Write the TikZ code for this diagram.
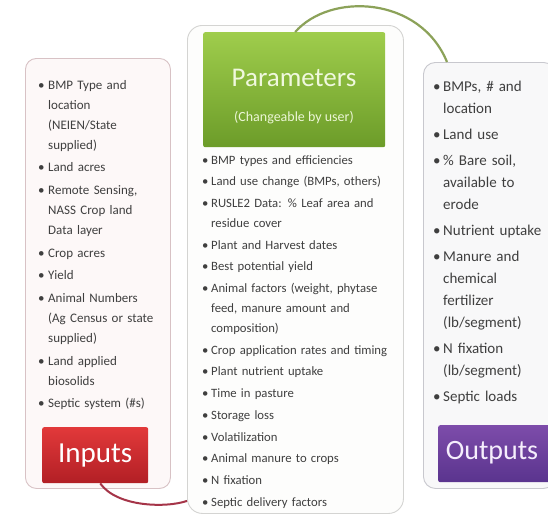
\documentclass[tikz,border=0pt]{standalone}
\usepackage{fontspec}
\setmainfont{Carlito}
\usetikzlibrary{calc}
\definecolor{txt}{HTML}{3F3F3F}
\definecolor{leftfill}{HTML}{FDF8F8}
\definecolor{leftline}{HTML}{D8C2C5}
\definecolor{midfill}{HTML}{FDFDFC}
\definecolor{midline}{HTML}{D4D4D2}
\definecolor{rightfill}{HTML}{F8F8F9}
\definecolor{rightline}{HTML}{C8C8CE}
\definecolor{redtop}{HTML}{E2393A}
\definecolor{redbot}{HTML}{B21F25}
\definecolor{grntop}{HTML}{9FCD4C}
\definecolor{grnbot}{HTML}{6C9C29}
\definecolor{purtop}{HTML}{7D4CAA}
\definecolor{purbot}{HTML}{5A348E}
\definecolor{redline}{HTML}{A53448}
\definecolor{grnline}{HTML}{8CA259}
\newif\iffirstitem
\newcommand\nl{\hfil\break}
\newcommand\bitem[2][10pt]{\iffirstitem\global\firstitemfalse\else\par\fi
  \hangindent=#1\hangafter=1\noindent\hbox to #1{\textbullet\hfil}#2}
\begin{document}
\begin{tikzpicture}[x=1pt,y=-1pt,
  panel/.style={draw, line width=0.9pt, anchor=north west, inner sep=0pt},
  labelbox/.style={anchor=north west, inner sep=0pt, rounded corners=2pt, text=white},
  listtext/.style={anchor=base west, inner sep=0pt, text=txt}]
\useasboundingbox (0,0) rectangle (548,522);
\fill[white] (0,0) rectangle (548,522);

% panels
\node[panel, draw=leftline, fill=leftfill, rounded corners=11pt,
      minimum width=145pt, minimum height=430pt] (inbox) at (25,58) {};
\node[panel, draw=midline, fill=midfill, rounded corners=15pt,
      minimum width=216pt, minimum height=488pt] (midbox) at (187,25) {};
\node[panel, draw=rightline, fill=rightfill, rounded corners=12pt,
      minimum width=132pt, minimum height=426pt] (outbox) at (423,62) {};

% title boxes
\node[labelbox, top color=redtop, bottom color=redbot,
      minimum width=106pt, minimum height=56pt] (inputs) at (42,427) {};
\node[text=white, inner sep=0pt, font=\fontsize{29}{29}\selectfont] (inputstxt) at (inputs.center) {Inputs};

\node[labelbox, top color=grntop, bottom color=grnbot,
      minimum width=182pt, minimum height=115pt] (params) at (203,32) {};
\node[text={rgb,255:red,240;green,248;blue,222}, inner sep=0pt, font=\fontsize{27}{27}\selectfont] (ptitle) at (294,78) {Parameters};
\node[text={rgb,255:red,236;green,246;blue,214}, inner sep=0pt, font=\fontsize{14}{14}\selectfont] (psub) at (294,118) {(Changeable by user)};

\node[labelbox, top color=purtop, bottom color=purbot,
      minimum width=112pt, minimum height=57pt] (outputs) at (438,425) {};
\node[text={rgb,255:red,245;green,238;blue,252}, inner sep=0pt, font=\fontsize{28}{28}\selectfont] (outputstxt) at (492,453) {Outputs};

% lists
\node[listtext, text width=130pt, font=\fontsize{13}{20}\selectfont] (inlist) at (38,89) {%
\raggedright\setlength\parskip{2.7pt}\global\firstitemtrue
\bitem{BMP Type and\nl location\nl (NEIEN/State\nl supplied)}
\bitem{Land acres}
\bitem{Remote Sensing,\nl NASS Crop land\nl Data layer}
\bitem{Crop acres}
\bitem{Yield}
\bitem{Animal Numbers\nl (Ag Census or state\nl supplied)}
\bitem{Land applied\nl biosolids}
\bitem{Septic system (\#s)}};

\node[listtext, text width=200pt, font=\fontsize{12.7}{20}\selectfont] (midlist) at (202,164) {%
\raggedright\setlength\parskip{1.7pt}\global\firstitemtrue
\bitem[9pt]{BMP types and efficiencies}
\bitem[9pt]{Land use change (BMPs, others)}
\bitem[9pt]{RUSLE2 Data: \% Leaf area and\nl residue cover}
\bitem[9pt]{Plant and Harvest dates}
\bitem[9pt]{Best potential yield}
\bitem[9pt]{Animal factors (weight, phytase\nl feed, manure amount and\nl composition)}
\bitem[9pt]{Crop application rates and timing}
\bitem[9pt]{Plant nutrient uptake}
\bitem[9pt]{Time in pasture}
\bitem[9pt]{Storage loss}
\bitem[9pt]{Volatilization}
\bitem[9pt]{Animal manure to crops}
\bitem[9pt]{N fixation}
\bitem[9pt]{Septic delivery factors}};

\node[listtext, text width=130pt, font=\fontsize{15}{22}\selectfont] (outlist) at (433,91) {%
\raggedright\setlength\parskip{4pt}\global\firstitemtrue
\bitem{BMPs, \# and\nl location}
\bitem{Land use}
\bitem{\% Bare soil,\nl available to\nl erode}
\bitem{Nutrient uptake}
\bitem{Manure and\nl chemical\nl fertilizer\nl (lb/segment)}
\bitem{N fixation\nl (lb/segment)}
\bitem{Septic loads}};

% connectors
\draw[redline, line width=2pt]
  ([xshift=5pt]inputs.south) .. controls ([xshift=22pt,yshift=-24pt]inputs.south) and ([xshift=-20pt,yshift=6pt]midbox.south west) .. ([yshift=13pt]midbox.south west);
\draw[grnline, line width=2.2pt]
  ([xshift=1pt]params.north) .. controls ([xshift=36pt,yshift=40pt]params.north) and ([xshift=-3pt,yshift=66pt]outbox.north west) .. ([xshift=24pt]outbox.north west);
\end{tikzpicture}
\end{document}
